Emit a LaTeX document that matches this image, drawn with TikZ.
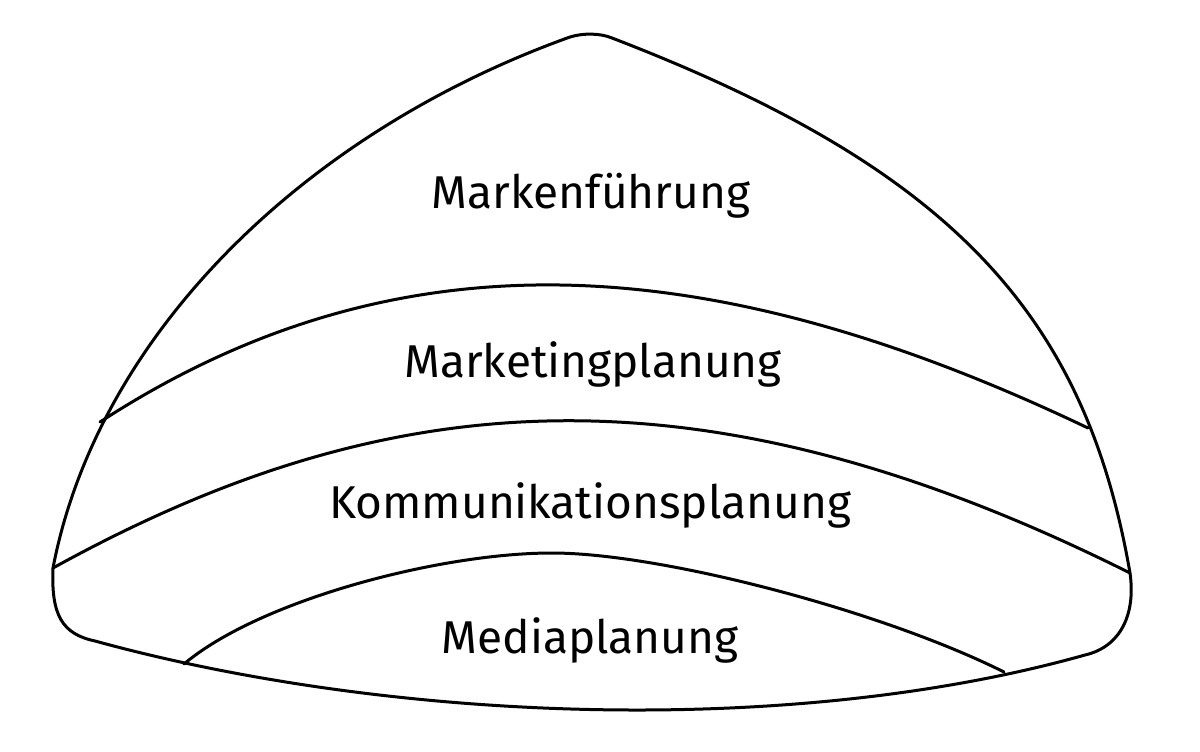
\documentclass[tikz,border=0pt]{standalone}
\usepackage{fontspec}
\setmainfont{Fira Sans}
\begin{document}
\begin{tikzpicture}[x=1pt,y=-1pt,
  outline/.style={line width=3pt, line join=round, line cap=round},
  label/.style={font=\fontsize{46}{50}\selectfont, anchor=base, inner sep=0pt}]
\useasboundingbox[fill=white] (0,0) rectangle (1200,752);
% outer contour
\draw[outline]
  (570,37) .. controls (583,33) and (600,33) .. (612,38)
  .. controls (950,168) and (1085,313) .. (1130,573)
  .. controls (1136,615) and (1120,647) .. (1085,655)
  .. controls (790,738) and (390,722) .. (95,641)
  .. controls (62,634) and (51,615) .. (53,568)
  .. controls (97,338) and (300,134) .. (570,37) -- cycle;
% dividers
\draw[outline] (100,422) .. controls (400,227) and (715,250) .. (1088,428);
\draw[outline] (53,568) .. controls (383,386) and (696,356) .. (1130,573);
\draw[outline] (184,664) .. controls (260,600) and (440,553) .. (552,553)
  .. controls (660,553) and (880,610) .. (1004,672);
% labels
\node[label] (t1) at (591,208) {Markenführung};
\node[label] (t2) at (593,377) {Marketingplanung};
\node[label] (t3) at (590,518) {Kommunikationsplanung};
\node[label] (t4) at (590,653) {Mediaplanung};
\end{tikzpicture}
\end{document}
